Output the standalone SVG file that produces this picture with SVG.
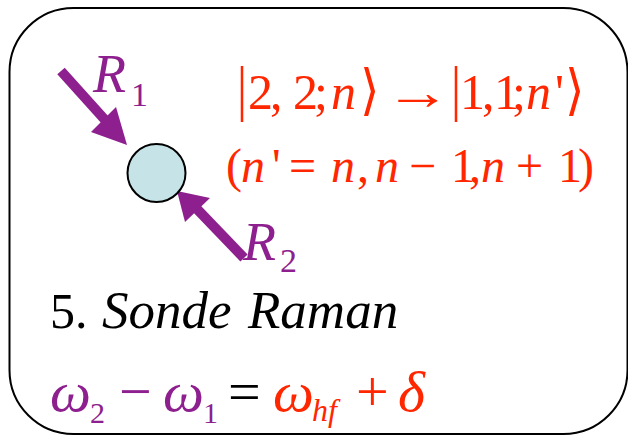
<svg xmlns="http://www.w3.org/2000/svg" width="628" height="436" viewBox="0 0 628 436">
<style>
.it{font-style:italic}
.red{fill:#ff2600}
.pur{fill:#8e1f8e}
.blk{fill:#000}
.shaft{stroke:#8e1f8e;stroke-width:10;fill:none}
.head{fill:#8e1f8e}
</style>
<rect x="9.5" y="8" width="618" height="426" rx="64" ry="64" fill="#fff" stroke="#000" stroke-width="2"/>
<g id="connectors">
<line class="shaft" x1="61" y1="71" x2="106" y2="121"/>
<polygon class="head" points="127,145 91,132 116,107"/>
<line class="shaft" x1="244" y1="258" x2="196" y2="208"/>
<polygon class="head" points="177,191 185,222 210,198"/>
</g>
<g id="atom">
<circle cx="156.5" cy="173" r="29" fill="#c6e4e8" stroke="#000" stroke-width="2"/>
</g>
<g font-family="'Liberation Serif', 'Times New Roman', 'DejaVu Serif', serif">
<g id="R1">
<text class="pur it" x="93" y="92" font-size="54">R</text>
<text class="pur" x="131" y="106" font-size="34">1</text>
</g>
<g id="R2">
<text class="pur it" x="243" y="260" font-size="54">R</text>
<text class="pur" x="280" y="272" font-size="34">2</text>
</g>
<g id="transition">
<text class="red" font-size="50" transform="translate(237,109) scale(1,1.22)">|</text>
<text class="red" y="109" font-size="50"><tspan x="248 270 293 314">2,2;</tspan><tspan class="it" x="331">n</tspan></text>
<text class="red" font-size="50" transform="translate(360,109) scale(1,1.1)">⟩</text>
<text class="red" font-size="50" transform="translate(385,109) scale(1.32,1)">→</text>
<text class="red" font-size="50" transform="translate(451,109) scale(1,1.22)">|</text>
<text class="red" y="109" font-size="50"><tspan x="460 482 494 512">1,1;</tspan><tspan class="it" x="526">n</tspan><tspan x="555">'</tspan></text>
<text class="red" font-size="50" transform="translate(565,109) scale(1,1.1)">⟩</text>
<text class="red" y="182" font-size="48"><tspan x="226">(</tspan><tspan class="it" x="241">n</tspan><tspan x="272">'</tspan><tspan x="289">=</tspan><tspan class="it" x="331">n</tspan><tspan x="357">,</tspan><tspan class="it" x="375">n</tspan><tspan x="409">−</tspan><tspan x="451 469">1,</tspan><tspan class="it" x="481">n</tspan><tspan x="516">+</tspan><tspan x="558 578">1)</tspan></text>
</g>
<g id="title">
<text class="blk" y="328"><tspan x="50" font-size="50">5.</tspan><tspan class="it" x="102" font-size="53">Sonde</tspan><tspan class="it" x="248" font-size="53">Raman</tspan></text>
</g>
<g id="equation">
<text y="411" font-size="58"><tspan class="pur it" x="50">ω</tspan><tspan class="pur" x="119">−</tspan><tspan class="pur it" x="163">ω</tspan><tspan class="blk" x="228">=</tspan><tspan class="red it" x="273">ω</tspan><tspan class="red" x="356">+</tspan><tspan class="red it" x="398">δ</tspan></text>
<text class="pur" x="90" y="423" font-size="30">2</text>
<text class="pur" x="203" y="423" font-size="30">1</text>
<text class="red it" x="312" y="421" font-size="32">hf</text>
</g>
</g>
</svg>
